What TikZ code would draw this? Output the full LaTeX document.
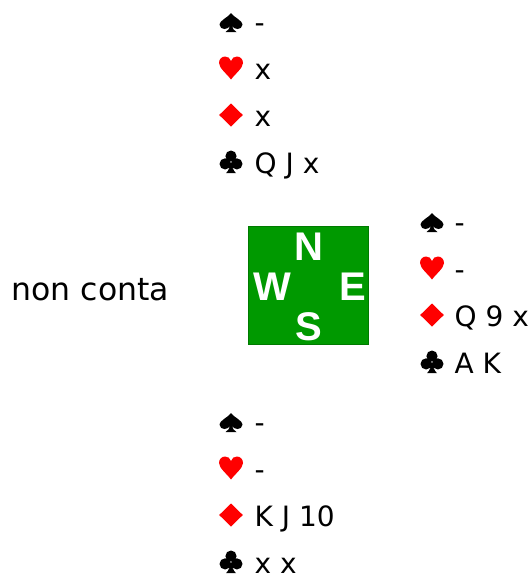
\documentclass[tikz,border=0pt]{standalone}
\usepackage{fontspec}
\setmainfont{DejaVu Sans}
\newfontfamily\compassfont{Liberation Sans}
\definecolor{tablegreen}{RGB}{0,153,0}
\definecolor{suitred}{RGB}{255,0,0}
% Suit outlines, in px round the centre of a 24px box (y grows downwards).
\newcommand{\spadepath}{(0,-9.5) .. controls (-3,-5) and (-11.5,-2) .. (-11.5,2)
  .. controls (-11.5,5) and (-9,6.5) .. (-6.5,6.5) .. controls (-4,6.5) and (-2,5) .. (-1,3.5)
  .. controls (-1.5,6) and (-3,8) .. (-5.5,9.5) -- (5.5,9.5) .. controls (3,8) and (1.5,6) .. (1,3.5)
  .. controls (2,5) and (4,6.5) .. (6.5,6.5) .. controls (9,6.5) and (11.5,5) .. (11.5,2)
  .. controls (11.5,-2) and (3,-5) .. (0,-9.5) -- cycle}
\newcommand{\heartpath}{(0,11.5) .. controls (-4,6) and (-12,0) .. (-12,-5)
  .. controls (-12,-9) and (-9,-11.5) .. (-6,-11.5) .. controls (-3,-11.5) and (-1,-10) .. (0,-7)
  .. controls (1,-10) and (3,-11.5) .. (6,-11.5) .. controls (9,-11.5) and (12,-9) .. (12,-5)
  .. controls (12,0) and (4,6) .. (0,11.5) -- cycle}
\newcommand{\diamondpath}{(0,-11.5) -- (11.8,0) -- (0,11.5) -- (-11.8,0) -- cycle}
\newcommand{\clubpath}{(0,-5.6) circle[radius=5.6] (-5.9,2.2) circle[radius=5.6] (5.9,2.2) circle[radius=5.6]
  (0,-1) .. controls (-0.5,5) and (-2.5,9) .. (-5,11.5) -- (5,11.5) .. controls (2.5,9) and (0.5,5) .. (0,-1) -- cycle}
\tikzset{
  suit/.style={minimum size=24pt, inner sep=0pt, outer sep=0pt},
  spadesuit/.style={suit, path picture={\fill[black, x=1pt, y=-1pt, shift={(path picture bounding box.center)}] \spadepath;}},
  heartsuit/.style={suit, path picture={\fill[suitred, x=1pt, y=-1pt, shift={(path picture bounding box.center)}] \heartpath;}},
  diamondsuit/.style={suit, path picture={\fill[suitred, x=1pt, y=-1pt, shift={(path picture bounding box.center)}] \diamondpath;}},
  clubsuit/.style={suit, path picture={\fill[black, x=1pt, y=-1pt, shift={(path picture bounding box.center)}] \clubpath;}},
  cards/.style={inner sep=0pt, anchor=base west, font=\fontsize{28}{28}\selectfont},
  compass/.style={inner sep=0pt, anchor=base, text=white, font=\compassfont\bfseries\fontsize{40}{40}\selectfont},
}

\begin{document}
\begin{tikzpicture}[x=1pt, y=-1pt]
  \useasboundingbox (0,0) rectangle (529,574);
  % North hand
  \node[spadesuit]   (nS) at (231,22.5)  {};
  \node[heartsuit]   (nH) at (231,68)    {};
  \node[diamondsuit] (nD) at (231,115)   {};
  \node[clubsuit]    (nC) at (231,161.7) {};
  \node[cards] (nSc) at (254.5,32)  {-};
  \node[cards] (nHc) at (254.5,79)  {x};
  \node[cards] (nDc) at (254.5,126) {x};
  \node[cards] (nCc) at (254.5,173) {Q J x};
  % East hand
  \node[spadesuit]   (eS) at (432,222.5) {};
  \node[heartsuit]   (eH) at (432,268)   {};
  \node[diamondsuit] (eD) at (432,315)   {};
  \node[clubsuit]    (eC) at (432,361.7) {};
  \node[cards] (eSc) at (454.5,232) {-};
  \node[cards] (eHc) at (454.5,279) {-};
  \node[cards] (eDc) at (454.5,326) {Q 9 x};
  \node[cards] (eCc) at (454.5,373) {A K};
  % South hand
  \node[spadesuit]   (sS) at (231,422.5) {};
  \node[heartsuit]   (sH) at (231,468)   {};
  \node[diamondsuit] (sD) at (231,515)   {};
  \node[clubsuit]    (sC) at (231,561.7) {};
  \node[cards] (sSc) at (254.5,432) {-};
  \node[cards] (sHc) at (254.5,479) {-};
  \node[cards] (sDc) at (254.5,526) {K J 10};
  \node[cards] (sCc) at (254.5,573) {x x};
  % West
  \node[cards, font=\fontsize{31.5}{31.5}\selectfont] (west) at (11.5,300) {non conta};
  % Table
  \draw[fill=tablegreen, draw=tablegreen!80!black] (248.5,226.5) rectangle (368,344);
  \node[compass] (cN) at (308.7,260) {N};
  \node[compass] (cW) at (272.5,300) {W};
  \node[compass] (cE) at (352.5,300) {E};
  \node[compass] (cS) at (308.7,340) {S};
\end{tikzpicture}
\end{document}
